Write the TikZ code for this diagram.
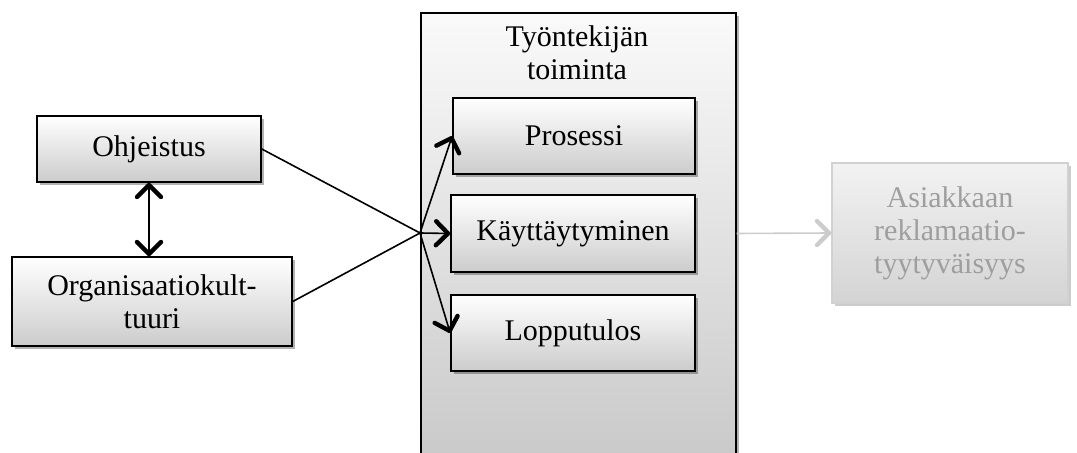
\documentclass[tikz,border=0pt]{standalone}
\usepackage{fontspec}
\setmainfont{Liberation Serif}
\usetikzlibrary{arrows.meta,shadows,calc}
\begin{document}
\begin{tikzpicture}[x=0.5pt,y=0.5pt,
  txt/.style={font=\fontsize{15}{16.5}\selectfont, align=center},
  box/.style={draw=black, line width=0.8pt, top color=white, bottom color=black!20,
    drop shadow={shadow xshift=1.5pt, shadow yshift=-1.5pt, opacity=0.3, fill=black},
    txt, inner sep=0pt},
  faded/.style={draw=black!18, line width=0.8pt, top color=black!5, bottom color=black!17,
    drop shadow={shadow xshift=1.5pt, shadow yshift=-1.5pt, opacity=0.2, fill=black},
    txt, text=black!38, inner sep=0pt},
  link/.style={line width=0.8pt, draw=black},
  barb/.tip={Straight Barb[length=6pt,width=12pt,line width=2.2pt,round]},
  tip/.style={-barb},
  dtip/.style={barb-barb}
]
\useasboundingbox (0,0) rectangle (1077,-453);

% employee activity container (runs past the lower edge)
\node[box, minimum width=157.5pt, minimum height=235pt, anchor=north west,
  top color=black!2, bottom color=black!22] (big) at (420,-12) {};
\node[txt, anchor=base] (title) at (577,-80) {Työntekijän\\toiminta};

% inputs
\node[box, minimum width=112pt, minimum height=33pt] (ohj) at (149,-149) {Ohjeistus};
\node[box, minimum width=140pt, minimum height=44.5pt] (org) at (152,-301.5) {Organisaatiokult-\\tuuri};

% parts of the activity
\node[box, minimum width=121pt, minimum height=38pt] (pro) at (574,-136) {Prosessi};
\node[box, minimum width=122pt, minimum height=38.5pt] (kay) at (573,-233.5) {Käyttäytyminen};
\node[box, minimum width=122pt, minimum height=38pt] (lop) at (573,-333) {Lopputulos};

% outcome
\node[faded, minimum width=118pt, minimum height=70pt] (asi) at (950,-233)
  {Asiakkaan\\reklamaatio-\\tyytyväisyys};

% connectors
\coordinate (J) at (420,-233);
\draw[link] (ohj.east) -- (J);
\draw[link] (org.east) -- (J);
\draw[link, tip] (J) -- (pro.west);
\draw[link, tip] (J) -- (kay.west);
\draw[link, tip] (J) -- (lop.west);
\draw[link, dtip] (ohj.south) -- (ohj.south |- org.north);
\draw[line width=0.8pt, draw=black!20, tip] (kay.east -| big.east) -- (asi.west);
\end{tikzpicture}
\end{document}
